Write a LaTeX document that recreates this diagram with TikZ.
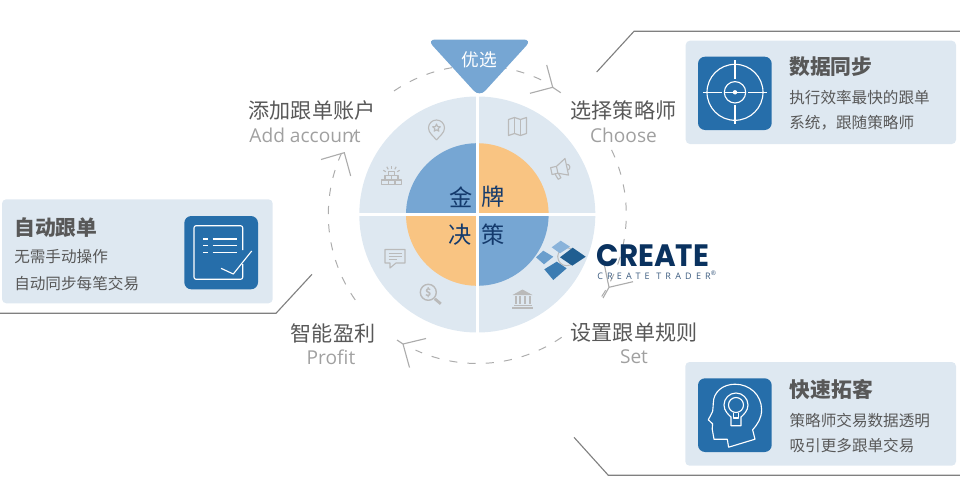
\documentclass[tikz,border=0pt]{standalone}
\usepackage{xcolor}
\usepackage{fontspec}
\usepackage{tikz}
\usetikzlibrary{positioning}
\setmainfont{Noto Sans CJK SC}
\newfontfamily\engfont{Open Sans}
\newfontfamily\logofont{Poppins}
\newfontfamily\logosmall[LetterSpace=47]{Open Sans}
\definecolor{mylight}{RGB}{222,232,241}
\definecolor{myblue}{RGB}{118,166,211}
\definecolor{myorange}{RGB}{249,196,130}
\definecolor{mycard}{RGB}{38,110,170}
\definecolor{mytext}{RGB}{88,88,88}
\definecolor{myeng}{RGB}{160,160,160}
\definecolor{mynavy}{RGB}{20,58,108}
\definecolor{myicon}{RGB}{186,186,186}
\definecolor{myring}{RGB}{172,172,172}
\definecolor{myleader}{RGB}{128,128,128}
\definecolor{mylogo}{RGB}{10,50,95}
\tikzset{
  cardbox/.style={fill=mylight, rounded corners=3pt},
  iconbox/.style={fill=mycard, rounded corners=5pt},
  cardtitle/.style={anchor=west, inner sep=0pt, text=mytext, font=\fontsize{14.8}{16}\selectfont\bfseries},
  cardbody/.style={anchor=west, inner sep=0pt, text=mytext, font=\fontsize{11.1}{13}\selectfont},
  steplabel/.style={inner sep=0pt, text=mytext, font=\fontsize{15}{17}\selectfont},
  englabel/.style={inner sep=0pt, text=myeng, font=\engfont\fontsize{13.6}{15}\selectfont},
  hanzi/.style={inner sep=0pt, text=mynavy, font=\fontsize{16.5}{18}\selectfont},
  leader/.style={color=myleader, line width=0.8pt},
  dashring/.style={color=myring, line width=0.7pt, dash pattern=on 5.8pt off 7.2pt},
  arrowbar/.style={color=myring, line width=0.8pt},
  iconline/.style={color=myicon, line width=0.8pt, line join=round},
  whiteline/.style={color=white, line width=0.8pt, line join=round}
}

\begin{document}
\begin{tikzpicture}[x=0.025cm, y=-0.025cm]
  \useasboundingbox (0,0) rectangle (960,480);
  \coordinate (hub) at (477.3,214.5);

  % dashed ring
  \draw[dashring] (hub) ++(236:149) arc[start angle=236, end angle=298, radius=149];
  \draw[dashring] (hub) ++(-25.7:149) arc[start angle=-25.7, end angle=33.4, radius=149];
  \draw[dashring] (hub) ++(55.5:149) arc[start angle=55.5, end angle=114.5, radius=149];
  \draw[dashring] (hub) ++(145:149) arc[start angle=145, end angle=205, radius=149];

  % arrow heads on the ring
  \coordinate (tipchoose) at (552.7,87.3);
  \coordinate (tipset) at (609,287.3);
  \coordinate (tipprofit) at (403,344);
  \coordinate (tipadd) at (344.3,152.7);
  \draw[arrowbar] (546.7,65) -- (tipchoose) -- (530,93.3) (tipchoose) -- (560.7,92.7);
  \draw[arrowbar] (604,263) -- (tipset) -- (633,281.7) (tipset) -- (603,298);
  \draw[arrowbar] (426,338.5) -- (tipprofit) -- (409.5,367.5) (tipprofit) -- (397,340);
  \draw[arrowbar] (321,159.5) -- (tipadd) -- (350.7,176);
  \draw[arrowbar] (350,142) -- (355,132);

  % leader lines
  \coordinate (syncstart) at (596.7,72);
  \coordinate (syncbend) at (634,31.3);
  \coordinate (syncend) at (960,31.3);
  \coordinate (autostart) at (0,313.3);
  \coordinate (autobend) at (276,313.3);
  \coordinate (autoend) at (312,274.3);
  \coordinate (fastbegin) at (574,437.3);
  \coordinate (fastbend) at (608.3,475.3);
  \coordinate (fastend) at (960,475.3);
  \draw[leader] (syncstart) -- (syncbend) -- (syncend);
  \draw[leader] (autostart) -- (autobend) -- (autoend);
  \draw[leader] (fastbegin) -- (fastbend) -- (fastend);

  % disc
  \fill[mylight] (hub) circle[radius=118];
  \fill[myblue] (hub) -- ++(180:71.3) arc[start angle=180, end angle=270, radius=71.3] -- cycle;
  \fill[myorange] (hub) -- ++(270:71.3) arc[start angle=270, end angle=360, radius=71.3] -- cycle;
  \fill[myblue] (hub) -- ++(0:71.3) arc[start angle=0, end angle=90, radius=71.3] -- cycle;
  \fill[myorange] (hub) -- ++(90:71.3) arc[start angle=90, end angle=180, radius=71.3] -- cycle;
  \draw[white, line width=2.2pt] (355,214.5) -- (599,214.5);
  \draw[white, line width=2.2pt] (477.3,92) -- (477.3,337);

  \node[hanzi] (jin) at (461,197) {金};
  \node[hanzi] (pai) at (493,197) {牌};
  \node[hanzi] (jue) at (460,235) {决};
  \node[hanzi] (ce) at (493,235) {策};

  % top badge
  \fill[myblue, rounded corners=6pt] (427,39.5) -- (532,39.5) -- (479.5,97) -- cycle;
  \node[inner sep=0pt, text=white, font=\fontsize{12.6}{14}\selectfont] (badge) at (479,60) {优选};

  % step labels
  \node[steplabel] (addcn) at (312,110) {添加跟单账户};
  \node[englabel] (adden) at (305,135) {Add account};
  \node[steplabel] (choosecn) at (623.5,110) {选择策略师};
  \node[englabel] (chooseen) at (623.5,135) {Choose};
  \node[steplabel] (setcn) at (634,333) {设置跟单规则};
  \node[englabel] (seten) at (634,357) {Set};
  \node[steplabel] (profitcn) at (333,333) {智能盈利};
  \node[englabel] (profiten) at (331,357) {Profit};

  % icons in the disc
  \begin{scope}[shift={(436.5,128)}]
    \draw[iconline] (0,12) .. controls (-3,8) and (-8,5) .. (-8,0) arc[start angle=180, end angle=360, radius=8] .. controls (8,5) and (3,8) .. (0,12);
    \draw[iconline] (-90:4) -- (-54:1.8) -- (-18:4) -- (18:1.8) -- (54:4) -- (90:1.8) -- (126:4) -- (162:1.8) -- (198:4) -- (234:1.8) -- cycle;
  \end{scope}
  \begin{scope}[shift={(517.5,126.5)}]
    \draw[iconline] (-9,-7) -- (-3,-9) -- (3,-7) -- (9,-9) -- (9,7) -- (3,9) -- (-3,7) -- (-9,9) -- cycle;
    \draw[iconline] (-3,-9) -- (-3,7) (3,-7) -- (3,9);
  \end{scope}
  \begin{scope}[shift={(561,168.5)}, rotate=12]
    \draw[iconline] (-4,-3) -- (-10,-3) -- (-10,4) -- (-4,4);
    \draw[iconline] (-4,-3) -- (6,-9) -- (6,8) -- (-4,4) -- cycle;
    \draw[iconline] (6,-3) .. controls (10,-3) and (10,3) .. (6,3);
    \draw[iconline] (-7,4) -- (-5,10) -- (-2,9) -- (-3.5,4.5);
  \end{scope}
  \begin{scope}[shift={(391.5,176)}]
    \foreach \a in {-150,-120,-90,-60,-30}
      \draw[iconline] (0,-1) ++(\a:6.5) -- ++(\a:3);
    \draw[iconline, line width=1pt] (-3,-4.5) rectangle (3,-0.5);
    \draw[iconline, line width=1pt] (-6.5,-0.5) rectangle (0,4);
    \draw[iconline, line width=1pt] (0,-0.5) rectangle (6.5,4);
    \draw[iconline, line width=1pt] (-10,4) rectangle (-3.3,8.5);
    \draw[iconline, line width=1pt] (-3.3,4) rectangle (3.3,8.5);
    \draw[iconline, line width=1pt] (3.3,4) rectangle (10,8.5);
  \end{scope}
  \begin{scope}[shift={(395,256)}]
    \draw[iconline] (-10,-6.5) -- (10,-6.5) -- (10,7) -- (1,7) -- (-5,12) -- (-5,7) -- (-10,7) -- cycle;
    \draw[iconline] (-6.5,-2.5) -- (6.5,-2.5) (-6.5,0.5) -- (6.5,0.5) (-6.5,3.5) -- (2,3.5);
  \end{scope}
  \begin{scope}[shift={(428.3,292.3)}]
    \draw[iconline, line width=1pt] (0,0) circle[radius=8];
    \draw[iconline, line width=2pt] (6.5,6.5) -- (12.5,11.5);
    \node[inner sep=0pt, text=myicon, font=\fontsize{7.5}{8}\selectfont\bfseries] (dollar) at (0,0) {\$};
  \end{scope}
  \begin{scope}[shift={(522.5,299)}]
    \fill[myicon] (0,-9.5) -- (10,-4) -- (-10,-4) -- cycle;
    \foreach \x in {-7,-2.4,2.4,7}
      \fill[myicon] (\x-1,-3) rectangle (\x+1,5);
    \fill[myicon] (-9,5.5) rectangle (9,7);
    \fill[myicon] (-10.5,7.5) rectangle (10.5,9.5);
  \end{scope}

  % logo
  \draw[color=myicon, line width=0.7pt] (566.7,256.7) circle[radius=9];
  \fill[myblue!85!white] (560.7,240.7) -- (570,246.7) -- (560,253.3) -- (551.7,247.3) -- cycle;
  \fill[myblue!85!mycard] (543.3,250.7) -- (553.3,256.7) -- (544,264.3) -- (536,257.3) -- cycle;
  \fill[mycard!85!black] (572.7,247.7) -- (585.7,256.7) -- (572.3,265.7) -- (560,257.3) -- cycle;
  \fill[mycard!90!white] (556.7,261.7) -- (566.7,268.3) -- (553.3,280) -- (544.3,269.3) -- cycle;
  \node[inner sep=0pt, anchor=base west, xscale=0.95, transform shape, text height=16pt, text depth=0pt, text=mylogo, font=\logofont\fontsize{22}{24}\selectfont\bfseries] (logotext) at (596.5,266) {CREATE};
  \node[inner sep=0pt, anchor=base west, text height=5pt, text depth=0pt, text=mylogo!80!white, font=\logosmall\fontsize{6.4}{8}\selectfont] (logosub) at (597,279) {CREATE TRADER\textsuperscript{®}};

  % card: top right
  \fill[cardbox] (685.7,40.7) rectangle (956,144);
  \fill[iconbox] (698,56.7) rectangle (771.7,130);
  \node[cardtitle] (synctitle) at (789,66.7) {数据同步};
  \node[cardbody] (syncone) at (789,97.3) {执行效率最快的跟单};
  \node[cardbody] (synctwo) at (789,122.7) {系统，跟随策略师};
  \begin{scope}[shift={(735,92.3)}]
    \draw[whiteline] (0,0) circle[radius=28];
    \draw[whiteline] (0,0) circle[radius=10.7];
    \fill[white] (0,0) circle[radius=2.2];
    \draw[whiteline] (-32,0) -- (-13,0) (13,0) -- (32,0) (0,-32) -- (0,-13) (0,13) -- (0,32) (-10.7,0) -- (10.7,0);
  \end{scope}

  % card: left
  \fill[cardbox] (2,199.3) rectangle (272.7,303.3);
  \fill[iconbox] (184.3,216) rectangle (258,289.3);
  \node[cardtitle] (autotitle) at (14,228) {自动跟单};
  \node[cardbody] (autoone) at (14,256.7) {无需手动操作};
  \node[cardbody] (autotwo) at (14,283.3) {自动同步每笔交易};
  \draw[whiteline, rounded corners=1.5pt] (242.7,250) -- (242.7,225.7) -- (194,225.7) -- (194,279.3) -- (242.7,279.3) -- (242.7,264);
  \draw[whiteline] (203.3,239) -- (208.3,239) (212.7,239) -- (237.3,239);
  \draw[whiteline] (203.3,245.7) -- (208.3,245.7) (212.7,245.7) -- (237.3,245.7);
  \draw[whiteline] (203.3,252.3) -- (208.3,252.3) (212.7,252.3) -- (237.3,252.3);
  \draw[whiteline] (221,268.3) -- (233.3,274) -- (251.7,251);

  % card: bottom right
  \fill[cardbox] (685.3,362) rectangle (956,465.7);
  \fill[iconbox] (698,378.3) rectangle (771.7,452);
  \node[cardtitle] (fasttitle) at (789.3,390) {快速拓客};
  \node[cardbody] (fastone) at (789.3,420.7) {策略师交易数据透明};
  \node[cardbody] (fasttwo) at (789.3,446) {吸引更多跟单交易};
  \begin{scope}[shift={(734.8,415)}]
    \draw[whiteline] (-6.2,32.2) -- (20.2,24.2) -- (17.8,14.8) .. controls (23,9) and (26.8,3) .. (26.8,-5.2)
      .. controls (26.8,-20) and (15,-30.8) .. (0.2,-30.8) .. controls (-12,-30.8) and (-21.5,-23) .. (-21.5,-11.8)
      .. controls (-21.5,-9) and (-22,-6) .. (-22.2,-3.5) -- (-26.5,4.8) -- (-22.2,8.8) -- (-22.6,14) -- (-20.8,24.2) -- (-7.5,24.2) -- cycle;
    \draw[whiteline] (-3.8,10.8) -- (-3.8,2) .. controls (-6,0) and (-10.8,-4) .. (-10.8,-10) arc[start angle=180, end angle=360, radius=12] .. controls (13.2,-4) and (8.4,0) .. (6.2,2) -- (6.2,10.8) -- cycle;
    \draw[whiteline] (1.2,-10) circle[radius=7.5];
    \draw[whiteline] (-1,-2.5) -- (-1,3) -- (3.4,3) -- (3.4,-2.5);
  \end{scope}
\end{tikzpicture}
\end{document}
